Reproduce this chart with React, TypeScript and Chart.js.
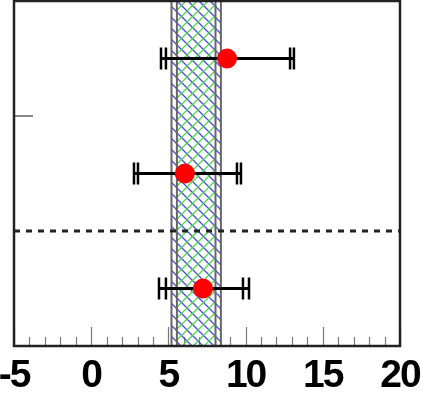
import React, { useEffect, useRef } from "react";
import { Chart, registerables } from "chart.js";

Chart.register(...registerables);

// x axis
const xMin = -5;
const xMax = 20;
const xStep = 5;
const xMinorStep = 1;
// y (rows)
const yMin = 0;
const yMax = 3;
const rows = [2.5, 1.5, 0.5];
// measurements
const centers = [8.8, 6.07, 7.24];
const innerLo = [4.84, 3.03, 4.84];
const innerHi = [12.88, 9.44, 9.83];
const outerLo = [4.52, 2.77, 4.39];
const outerHi = [13.13, 9.7, 10.22];
// reference band
const bandOuter = [5.2, 8.4];
const bandInner = [5.55, 8.05];
// horizontal markers
const dashedY = 1;
const leftTickY = 2;

function makeHatch(ctx: CanvasRenderingContext2D, color: string, dir: number) {
  const s = 11;
  const c = document.createElement("canvas");
  c.width = s;
  c.height = s;
  const g = c.getContext("2d")!;
  g.strokeStyle = color;
  g.lineWidth = 1.3;
  g.beginPath();
  if (dir > 0) {
    g.moveTo(-2, s + 2);
    g.lineTo(s + 2, -2);
    g.moveTo(-2, 2);
    g.lineTo(2, -2);
    g.moveTo(s - 2, s + 2);
    g.lineTo(s + 2, s - 2);
  } else {
    g.moveTo(-2, -2);
    g.lineTo(s + 2, s + 2);
    g.moveTo(s - 2, -2);
    g.lineTo(s + 2, 2);
    g.moveTo(-2, s - 2);
    g.lineTo(2, s + 2);
  }
  g.stroke();
  return ctx.createPattern(c, "repeat")!;
}

const decorPlugin = {
  id: "decor",
  beforeDraw(chart: any) {
    (chart.ctx as any).letterSpacing = "-2px";
  },
  beforeDatasetsDraw(chart: any) {
    const ctx: CanvasRenderingContext2D = chart.ctx;
    const xs = chart.scales.x;
    const ys = chart.scales.y;
    const a = chart.chartArea;
    ctx.save();
    // inner ticks on bottom axis
    ctx.strokeStyle = "#777";
    ctx.lineWidth = 1.2;
    for (let v = xMin; v <= xMax + 1e-9; v += xMinorStep) {
      const px = Math.round(xs.getPixelForValue(v)) + 0.5;
      const major = Math.abs((v - xMin) % xStep) < 1e-9;
      const len = major ? 19 : 9;
      ctx.beginPath();
      ctx.moveTo(px, a.bottom);
      ctx.lineTo(px, a.bottom - len);
      ctx.stroke();
    }
    // left tick
    ctx.strokeStyle = "#888";
    ctx.lineWidth = 2;
    const ty = ys.getPixelForValue(leftTickY);
    ctx.beginPath();
    ctx.moveTo(a.left, ty);
    ctx.lineTo(a.left + 19, ty);
    ctx.stroke();

    // band
    const oL = xs.getPixelForValue(bandOuter[0]);
    const oR = xs.getPixelForValue(bandOuter[1]);
    const iL = xs.getPixelForValue(bandInner[0]);
    const iR = xs.getPixelForValue(bandInner[1]);
    ctx.fillStyle = makeHatch(ctx, "#4a4ae0", -1);
    ctx.fillRect(oL, a.top, oR - oL, a.bottom - a.top);
    ctx.fillStyle = makeHatch(ctx, "#4cd84c", 1);
    ctx.fillRect(iL, a.top, iR - iL, a.bottom - a.top);
    ctx.strokeStyle = "#666";
    ctx.lineWidth = 2;
    for (const px of [oL, iL, iR, oR]) {
      ctx.beginPath();
      ctx.moveTo(px, a.top);
      ctx.lineTo(px, a.bottom);
      ctx.stroke();
    }

    // dashed line
    const dy = ys.getPixelForValue(dashedY);
    ctx.strokeStyle = "#222";
    ctx.lineWidth = 3;
    ctx.setLineDash([6, 6]);
    ctx.beginPath();
    ctx.moveTo(a.left, dy);
    ctx.lineTo(a.right, dy);
    ctx.stroke();
    ctx.setLineDash([]);

    // error bars
    ctx.strokeStyle = "#000";
    for (let i = 0; i < rows.length; i++) {
      const y = ys.getPixelForValue(rows[i]);
      const x0 = xs.getPixelForValue(outerLo[i]);
      const x1 = xs.getPixelForValue(outerHi[i]);
      ctx.lineWidth = 3;
      ctx.beginPath();
      ctx.moveTo(x0, y);
      ctx.lineTo(x1, y);
      ctx.stroke();
      ctx.lineWidth = 2.5;
      for (const v of [outerLo[i], innerLo[i], innerHi[i], outerHi[i]]) {
        const px = xs.getPixelForValue(v);
        ctx.beginPath();
        ctx.moveTo(px, y - 11);
        ctx.lineTo(px, y + 11);
        ctx.stroke();
      }
    }
    ctx.restore();
  },
  afterDraw(chart: any) {
    const ctx: CanvasRenderingContext2D = chart.ctx;
    const a = chart.chartArea;
    ctx.save();
    ctx.strokeStyle = "#222";
    ctx.lineWidth = 2.5;
    ctx.strokeRect(a.left, a.top, a.right - a.left, a.bottom - a.top);
    ctx.restore();
    (ctx as any).letterSpacing = "0px";
  },
};

export default function App() {
  const ref = useRef<HTMLCanvasElement | null>(null);
  useEffect(() => {
    if (!ref.current) return;
    const chart = new Chart(ref.current, {
      type: "scatter",
      data: {
        datasets: [
          {
            data: centers.map((c, i) => ({ x: c, y: rows[i] })),
            backgroundColor: "#ff0000",
            borderWidth: 0,
            pointRadius: 10,
            pointHoverRadius: 10,
          },
        ],
      },
      options: {
        animation: false,
        responsive: false,
        devicePixelRatio: 1,
        events: [],
        layout: { autoPadding: false, padding: { left: 14, right: 22, top: 1, bottom: 0 } },
        plugins: { legend: { display: false }, tooltip: { enabled: false } },
        scales: {
          x: {
            type: "linear",
            min: xMin,
            max: xMax,
            grid: { display: false },
            border: { display: false },
            ticks: {
              stepSize: xStep,
              autoSkip: false,
              maxRotation: 0,
              padding: -1,
              color: "#000",
              font: {
                family: "'Liberation Sans', Arial, sans-serif",
                size: 39,
                weight: "bold",
              },
            },
            afterFit: (s: any) => {
              s.height = 50;
              s.paddingLeft = 0;
              s.paddingRight = 0;
            },
          },
          y: { type: "linear", min: yMin, max: yMax, display: false },
        },
      },
      plugins: [decorPlugin],
    } as any);
    return () => chart.destroy();
  }, []);
  return (
    <div style={{ position: "fixed", left: 0, top: 0, width: 422, height: 396, background: "#fff" }}>
      <canvas ref={ref} width={422} height={396} />
    </div>
  );
}
